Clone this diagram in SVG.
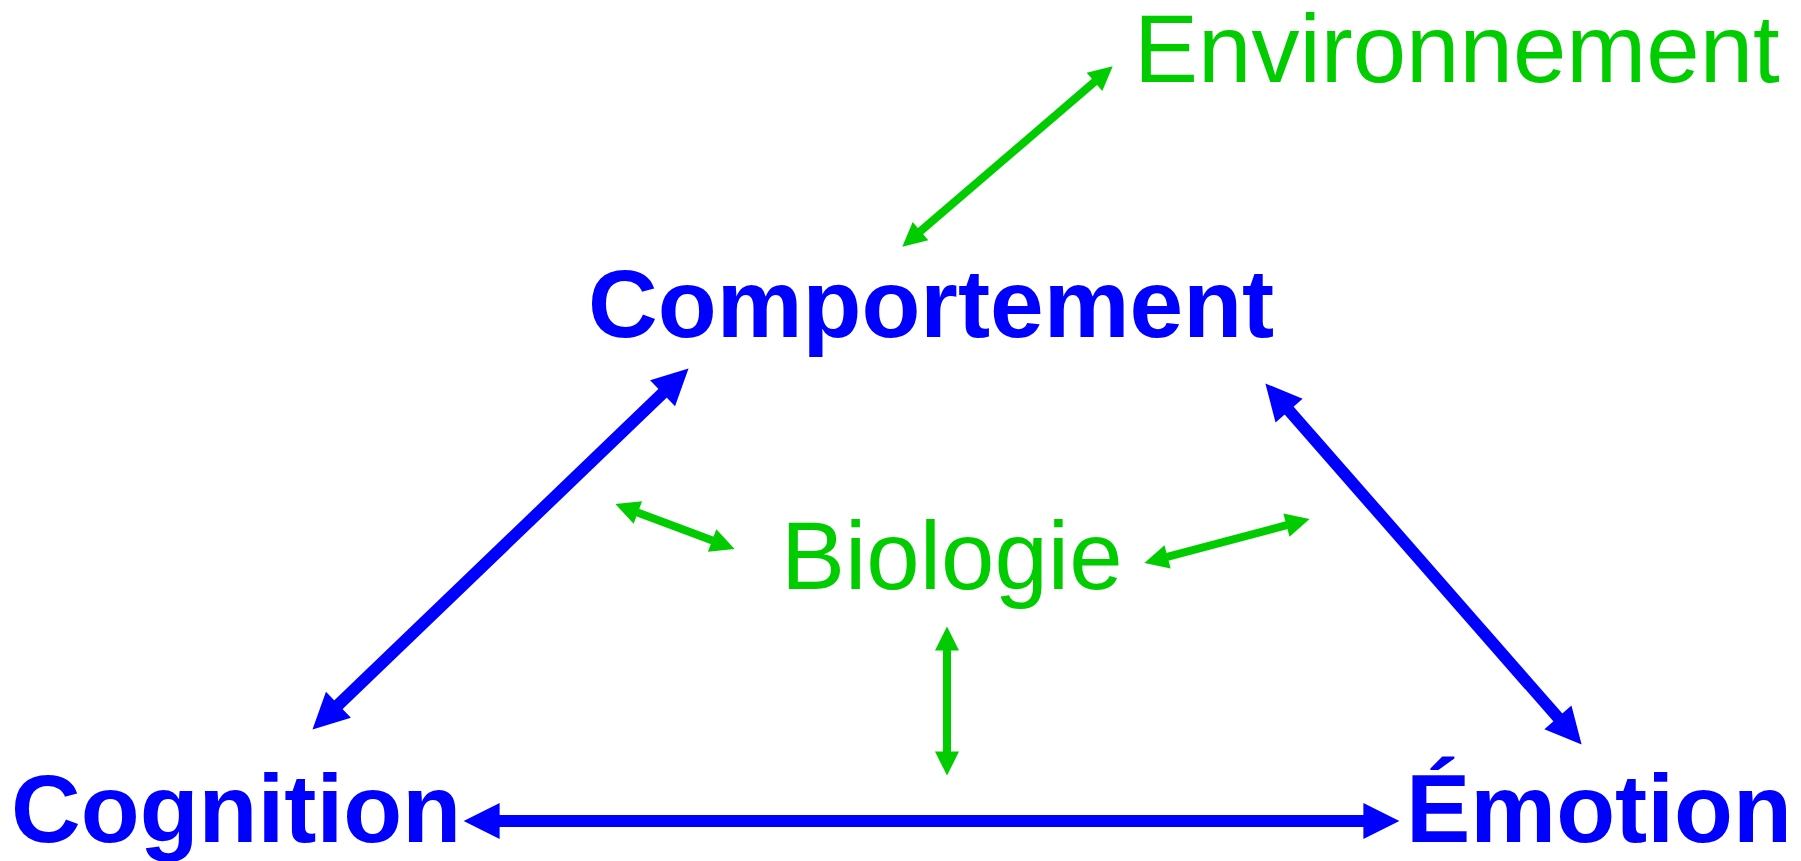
<svg xmlns="http://www.w3.org/2000/svg" width="1801" height="861" viewBox="0 0 1801 861">
  <style>
    .bold { font-family: "Liberation Sans", Arial, sans-serif; font-weight: bold; font-size: 96.5px; fill: #0000FF; }
    .reg { font-family: "Liberation Sans", Arial, sans-serif; font-size: 96px; fill: #00CC00; }
    .blue { stroke: #0000FF; stroke-width: 12; fill: none; marker-start: url(#headB); marker-end: url(#headE); }
    .green { stroke: #00CC00; stroke-width: 8; fill: none; marker-start: url(#headBg); marker-end: url(#headEg); }
  </style>
  <defs>
    <marker id="headE" markerUnits="strokeWidth" markerWidth="3.1" markerHeight="3" refX="0.05" refY="1.5" orient="auto" overflow="visible">
      <path d="M0,0 L3,1.5 L0,3 Z" fill="#0000FF"/>
    </marker>
    <marker id="headB" markerUnits="strokeWidth" markerWidth="3.1" markerHeight="3" refX="2.95" refY="1.5" orient="auto" overflow="visible">
      <path d="M3,0 L0,1.5 L3,3 Z" fill="#0000FF"/>
    </marker>
    <marker id="headEg" markerUnits="strokeWidth" markerWidth="3.1" markerHeight="3" refX="0.05" refY="1.5" orient="auto" overflow="visible">
      <path d="M0,0 L3,1.5 L0,3 Z" fill="#00CC00"/>
    </marker>
    <marker id="headBg" markerUnits="strokeWidth" markerWidth="3.1" markerHeight="3" refX="2.95" refY="1.5" orient="auto" overflow="visible">
      <path d="M3,0 L0,1.5 L3,3 Z" fill="#00CC00"/>
    </marker>
  </defs>
  <rect width="1801" height="861" fill="#FFFFFF"/>

  <g id="connectors">
    <line class="blue" x1="338" y1="705.1" x2="663" y2="392.9"/>
    <line class="blue" x1="1288.7" y1="410.1" x2="1558.3" y2="717.9"/>
    <line class="blue" x1="499" y1="821" x2="1364" y2="821"/>
    <line class="green" x1="920.2" y1="231.4" x2="1094.8" y2="81.6"/>
    <line class="green" x1="637.5" y1="512.4" x2="712.5" y2="540.6"/>
    <line class="green" x1="1167.2" y1="556.9" x2="1286.8" y2="525.1"/>
    <line class="green" x1="947" y1="650" x2="947" y2="752"/>
  </g>

  <g id="environnement">
    <text class="reg" x="1134" y="82">Environnement</text>
  </g>
  <g id="comportement">
    <text class="bold" x="588" y="337">Comportement</text>
  </g>
  <g id="biologie">
    <text class="reg" x="781" y="589">Biologie</text>
  </g>
  <g id="cognition">
    <text class="bold" x="11" y="842">Cognition</text>
  </g>
  <g id="emotion">
    <text class="bold" x="1406" y="842">Émotion</text>
  </g>
</svg>
